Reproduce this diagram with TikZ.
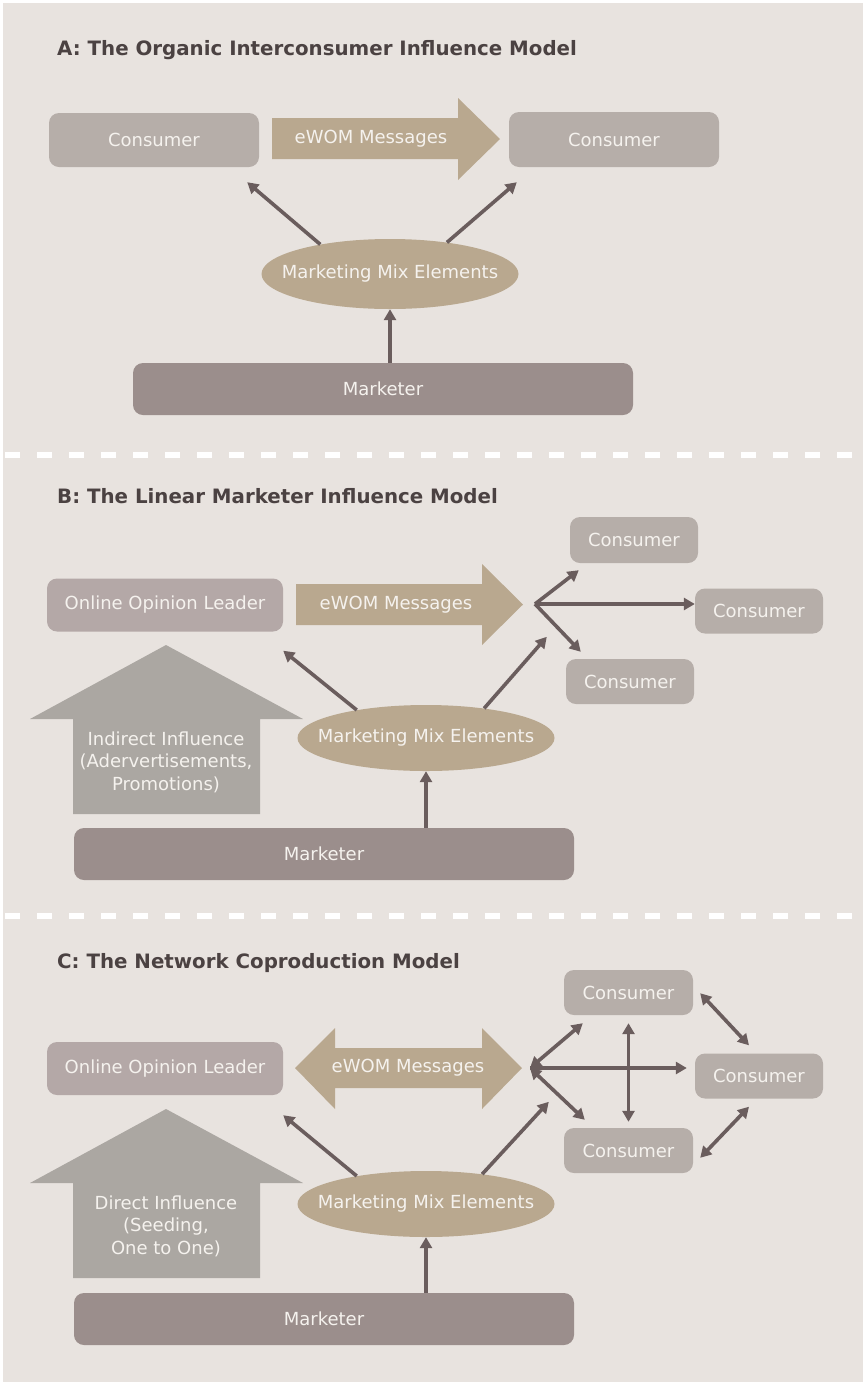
\documentclass[tikz,border=0pt]{standalone}
\usepackage{fontspec}
\setmainfont{DejaVu Sans}
\usetikzlibrary{arrows.meta,calc,shapes.geometric}

\definecolor{bgcol}{HTML}{E8E3DF}
\definecolor{conscol}{HTML}{B6AEA9}
\definecolor{leadcol}{HTML}{B4A8A7}
\definecolor{tancol}{HTML}{B9A88F}
\definecolor{mktcol}{HTML}{9B8E8C}
\definecolor{housecol}{HTML}{ABA7A2}
\definecolor{linecol}{HTML}{6A5D5D}
\definecolor{titlecol}{HTML}{4B4242}
\definecolor{txtcol}{HTML}{F5F2EE}

\newcommand\boxfont{\fontsize{18}{22.5}\selectfont}

\tikzset{
  box/.style={rectangle, rounded corners=10pt, fill=conscol, text=txtcol, font=\boxfont, inner sep=0pt},
  leader/.style={box, fill=leadcol, minimum width=236pt, minimum height=53pt},
  smallbox/.style={box, minimum width=128pt, minimum height=45pt},
  mixell/.style={ellipse, fill=tancol, text=txtcol, font=\boxfont, inner xsep=-20pt, inner ysep=0pt, minimum width=257pt, minimum height=66pt},
  mkt/.style={rectangle, rounded corners=10pt, fill=mktcol, text=txtcol, font=\boxfont, minimum width=500pt, minimum height=52pt},
  msg/.style={text=txtcol, font=\boxfont, inner sep=0pt},
  heading/.style={anchor=base west, text=titlecol, font=\bfseries\fontsize{19.8}{24}\selectfont, inner sep=0pt},
  conn/.style={draw=linecol, line width=3.6pt, -{Triangle[length=11pt,width=12pt]}},
  conn2/.style={conn, {Triangle[length=11pt,width=12pt]}-{Triangle[length=11pt,width=12pt]}},
  sep/.style={draw=white, line width=6.5pt, dash pattern=on 15pt off 17pt},
}

\begin{document}
\begin{tikzpicture}[x=1pt,y=-1pt]
\fill[white] (0,0) rectangle (866,1385);
\fill[bgcol] (3,3) rectangle (863,1382);
\useasboundingbox (0,0) rectangle (866,1385);

% A: organic model
\fill[tancol] (272,118) -- (458,118) -- (458,98) -- (500,139) -- (458,180) -- (458,159) -- (272,159) -- cycle;
\path (57,55) node[heading] (tA) {A: The Organic Interconsumer Influence Model}
(154,140) node[box, minimum width=210pt, minimum height=54pt] (cA1) {Consumer}
(614,139.5) node[box, minimum width=210pt, minimum height=55pt] (cA2) {Consumer}
(371,139) node[msg] (eA) {eWOM Messages}
(390,274) node[mixell, minimum height=70pt] (mixA) {Marketing Mix Elements}
(383,389) node[mkt] (mktA) {Marketer};
\draw[conn] (mixA.157) -- ($(cA1.south east)+(-12,15)$);
\draw[conn] (mixA.29) -- ($(cA2.south west)+(8,15)$);
\draw[conn] (mktA.north -| mixA.south) -- (mixA.south);

\draw[sep] (5,455) -- (862,455);

% B: linear model
\fill[tancol] (296,584) -- (482,584) -- (482,564) -- (523,604.5) -- (482,645) -- (482,625) -- (296,625) -- cycle;
\fill[housecol] (166,645) -- (303,719) -- (260,719) -- (260,814) -- (73,814) -- (73,719) -- (30,719) -- cycle;
\path (57,503) node[heading] (tB) {B: The Linear Marketer Influence Model}
(165,605) node[leader] (olB) {Online Opinion Leader}
(396,605) node[msg] (eB) {eWOM Messages}
(634,540) node[smallbox, minimum height=46pt] (cB1) {Consumer}
(759,611) node[smallbox] (cB2) {Consumer}
(630,681.5) node[smallbox] (cB3) {Consumer}
(166,762) node[msg, align=center] (inB) {Indirect Influence\\(Adervertisements,\\Promotions)}
(426,738) node[mixell] (mixB) {Marketing Mix Elements}
(324,854) node[mkt] (mktB) {Marketer};
\coordinate (hubB) at (535,604);
\draw[conn] (hubB) -- ($(cB1.south west)+(9,7)$);
\draw[conn] (hubB) -- (hubB -| cB2.west) ;
\draw[conn] (hubB) -- ($(cB3.north west)+(15,-7)$);
\draw[conn] (mixB.158) -- ($(olB.south east)+(0,19)$);
\draw[conn] (mixB.27) -- ($(cB3.north west)+(-19,-22)$);
\draw[conn] (mktB.north -| mixB.south) -- (mixB.south);

\draw[sep] (5,916) -- (862,916);

% C: network model
\fill[tancol] (295,1068) -- (335,1028) -- (335,1048) -- (482,1048) -- (482,1028) -- (522,1068) -- (482,1109) -- (482,1088) -- (335,1088) -- (335,1109) -- cycle;
\fill[housecol] (166,1109) -- (303,1183) -- (260,1183) -- (260,1278) -- (73,1278) -- (73,1183) -- (30,1183) -- cycle;
\path (57,968) node[heading] (tC) {C: The Network Coproduction Model}
(165,1068.5) node[leader] (olC) {Online Opinion Leader}
(408,1068) node[msg] (eC) {eWOM Messages}
(628.5,992.5) node[smallbox, minimum width=129pt] (cC1) {Consumer}
(759,1076) node[smallbox] (cC2) {Consumer}
(628.5,1150.5) node[smallbox, minimum width=129pt] (cC3) {Consumer}
(166,1226) node[msg, align=center] (inC) {Direct Influence\\(Seeding,\\One to One)}
(426,1204) node[mixell] (mixC) {Marketing Mix Elements}
(324,1319) node[mkt] (mktC) {Marketer};
\coordinate (hubC) at (530,1068);
\draw[conn2] (hubC) -- ($(cC1.south west)+(19,8)$);
\draw[conn] (hubC) -- ($(hubC -| cC2.west)+(-8,0)$);
\draw[conn2] (hubC) -- ($(cC3.north west)+(21,-8)$);
\draw[conn2] ($(cC1.south)+(0,8)$) -- ($(cC3.north)+(0,-6)$);
\draw[conn2] ($(cC1.south east)+(7,-22)$) -- ($(cC2.north)+(-10,-8)$);
\draw[conn2] ($(cC3.north east)+(7,30)$) -- ($(cC2.south)+(-10,8)$);
\draw[conn] (mixC.158) -- ($(olC.south east)+(0,20)$);
\draw[conn] (mixC.28) -- ($(cC3.north west)+(-15,-26)$);
\draw[conn] (mktC.north -| mixC.south) -- (mixC.south);
\end{tikzpicture}
\end{document}
